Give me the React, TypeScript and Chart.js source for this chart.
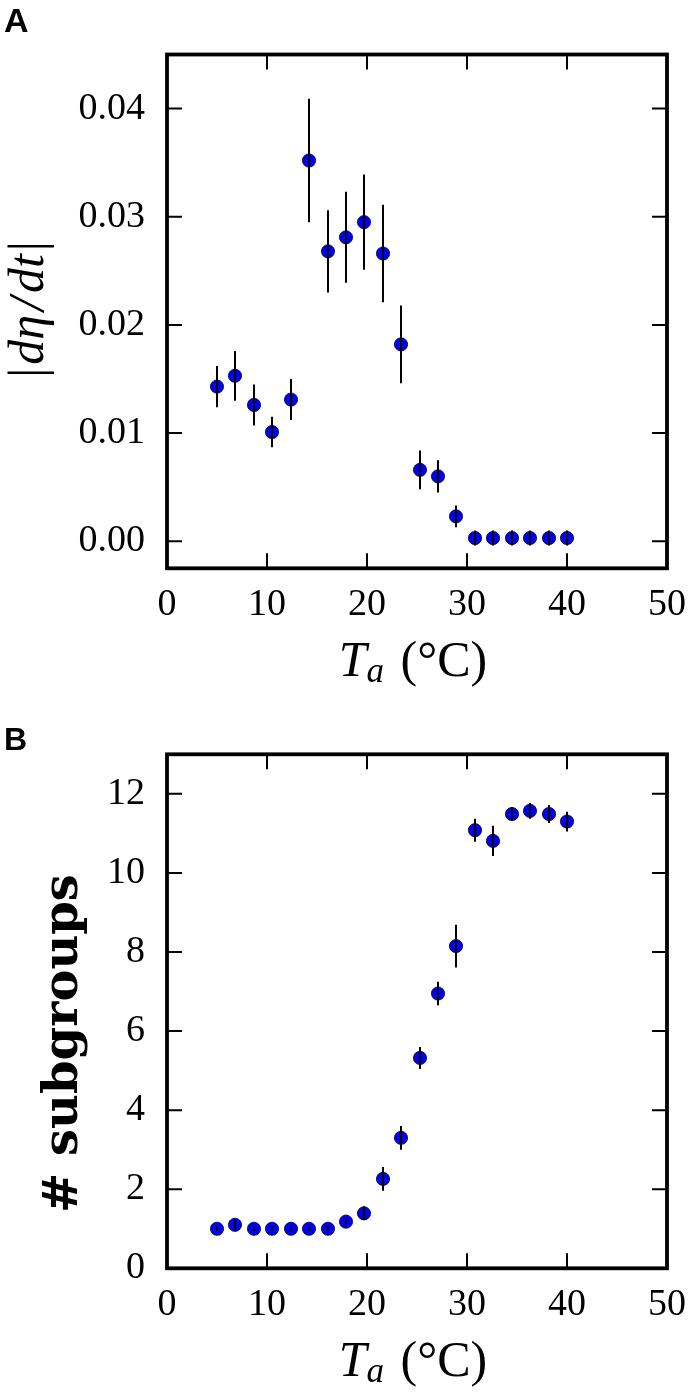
import React, { useEffect, useRef } from 'react';
import { Chart, registerables } from 'chart.js';

Chart.register(...registerables);

// ---- data ----
const temperature = [5.0, 6.8, 8.7, 10.5, 12.4, 14.2, 16.1, 17.9, 19.7, 21.6, 23.4, 25.3, 27.1, 28.9, 30.8, 32.6, 34.5, 36.3, 38.2, 40.0];
const rateValues = [0.0143, 0.0153, 0.0126, 0.0101, 0.0131, 0.0352, 0.0268, 0.0281, 0.0295, 0.0266, 0.0182, 0.0066, 0.006, 0.0023, 0.0003, 0.0003, 0.0003, 0.0003, 0.0003, 0.0003];
const rateErrors = [0.0019, 0.0023, 0.0019, 0.0014, 0.0019, 0.0057, 0.0038, 0.0042, 0.0044, 0.0045, 0.0036, 0.0018, 0.0015, 0.001, 0.0007, 0.0007, 0.0007, 0.0007, 0.0007, 0.0007];
const subgroupValues = [1.0, 1.1, 1.0, 1.0, 1.0, 1.0, 1.0, 1.18, 1.39, 2.26, 3.3, 5.32, 6.95, 8.15, 11.08, 10.81, 11.49, 11.57, 11.49, 11.3];
const subgroupErrors = [0.05, 0.12, 0.05, 0.05, 0.05, 0.05, 0.05, 0.08, 0.17, 0.3, 0.3, 0.28, 0.3, 0.54, 0.29, 0.38, 0.18, 0.2, 0.23, 0.25];
const xTicks = [0, 10, 20, 30, 40, 50];
const rateTicks = [0, 0.01, 0.02, 0.03, 0.04];
const subgroupTicks = [0, 2, 4, 6, 8, 10, 12];

const SERIF = '"Liberation Serif", "Times New Roman", serif';

type PanelCfg = {
  letter: string;
  letterFont: string;
  letterY: number;
  values: number[];
  errors: number[];
  yMin: number;
  yMax: number;
  yTicks: number[];
  fmt: (v: number) => string;
  padTop: number;
  xAxisHeight: number;
  drawYTitle: (ctx: CanvasRenderingContext2D, area: any) => void;
};

function drawXTitle(ctx: CanvasRenderingContext2D, area: any) {
  const main = 'italic 50px ' + SERIF;
  const sub = 'italic 35px ' + SERIF;
  const rest = '50px ' + SERIF;
  ctx.font = main;
  const wT = ctx.measureText('T').width;
  ctx.font = sub;
  const wa = ctx.measureText('a').width;
  ctx.font = rest;
  const wr = ctx.measureText(' (°C)').width;
  const total = wT + wa + wr + 4;
  const cx = (area.left + area.right) / 2 - 4;
  let x = cx - total / 2;
  const base = area.bottom + 108;
  ctx.fillStyle = '#000';
  ctx.textAlign = 'left';
  ctx.textBaseline = 'alphabetic';
  ctx.font = main;
  ctx.fillText('T', x, base);
  x += wT;
  ctx.font = sub;
  ctx.fillText('a', x, base + 6);
  x += wa + 4;
  ctx.font = rest;
  ctx.fillText(' (°C)', x, base);
}

function makeChart(canvas: HTMLCanvasElement, cfg: PanelCfg) {
  const decor = {
    id: 'decor',
    afterDatasetsDraw(chart: any) {
      const { ctx, scales } = chart;
      const x = scales.x;
      const y = scales.y;
      ctx.save();
      ctx.strokeStyle = '#000';
      ctx.lineWidth = 2;
      cfg.values.forEach((v, i) => {
        const px = x.getPixelForValue(temperature[i]);
        ctx.beginPath();
        ctx.moveTo(px, y.getPixelForValue(v - cfg.errors[i]));
        ctx.lineTo(px, y.getPixelForValue(v + cfg.errors[i]));
        ctx.stroke();
      });
      ctx.restore();
    },
    afterDraw(chart: any) {
      const { ctx, chartArea: a, scales } = chart;
      const x = scales.x;
      const y = scales.y;
      ctx.save();
      ctx.strokeStyle = '#000';
      // ticks (inward, all four sides)
      ctx.lineWidth = 2;
      const tl = 15;
      xTicks.forEach((t) => {
        const px = x.getPixelForValue(t);
        ctx.beginPath();
        ctx.moveTo(px, a.bottom);
        ctx.lineTo(px, a.bottom - tl);
        ctx.moveTo(px, a.top);
        ctx.lineTo(px, a.top + tl);
        ctx.stroke();
      });
      cfg.yTicks.forEach((t) => {
        const py = y.getPixelForValue(t);
        ctx.beginPath();
        ctx.moveTo(a.left, py);
        ctx.lineTo(a.left + tl, py);
        ctx.moveTo(a.right, py);
        ctx.lineTo(a.right - tl, py);
        ctx.stroke();
      });
      // frame
      ctx.lineWidth = 3.8;
      ctx.strokeRect(a.left, a.top, a.right - a.left, a.bottom - a.top);
      // titles
      drawXTitle(ctx, a);
      cfg.drawYTitle(ctx, a);
      // panel letter
      ctx.fillStyle = '#000';
      ctx.textAlign = 'left';
      ctx.textBaseline = 'alphabetic';
      ctx.font = cfg.letterFont;
      ctx.fillText(cfg.letter, 4, cfg.letterY);
      ctx.restore();
    },
  };

  return new Chart(canvas, {
    type: 'scatter',
    data: {
      datasets: [
        {
          data: temperature.map((t, i) => ({ x: t, y: cfg.values[i] })),
          pointRadius: 6.6,
          pointHoverRadius: 6.6,
          pointBackgroundColor: '#0000ee',
          pointBorderColor: '#000022',
          pointBorderWidth: 0.8,
          clip: false as any,
        },
      ],
    },
    options: {
      animation: false,
      responsive: false,
      devicePixelRatio: 1,
      events: [],
      layout: { padding: { top: cfg.padTop, right: 21, left: 0, bottom: 0 }, autoPadding: false } as any,
      plugins: { legend: { display: false }, tooltip: { enabled: false }, title: { display: false } },
      scales: {
        x: {
          type: 'linear',
          min: 0,
          max: 50,
          grid: { display: false, drawTicks: false },
          border: { display: false },
          afterBuildTicks: (s: any) => {
            s.ticks = xTicks.map((v) => ({ value: v }));
          },
          afterFit: (s: any) => {
            s.height = cfg.xAxisHeight;
          },
          ticks: {
            padding: 14,
            color: '#000',
            font: { family: SERIF, size: 38 },
            maxRotation: 0,
            autoSkip: false,
            callback: (v: any) => String(v),
          },
        },
        y: {
          type: 'linear',
          min: cfg.yMin,
          max: cfg.yMax,
          grid: { display: false, drawTicks: false },
          border: { display: false },
          afterBuildTicks: (s: any) => {
            s.ticks = cfg.yTicks.map((v) => ({ value: v }));
          },
          afterFit: (s: any) => {
            s.width = 167;
          },
          ticks: {
            padding: 22,
            color: '#000',
            font: { family: SERIF, size: 38 },
            autoSkip: false,
            callback: (v: any) => cfg.fmt(Number(v)),
          },
        },
      },
    } as any,
    plugins: [decor],
  });
}

const panelA: PanelCfg = {
  letter: 'A',
  letterFont: 'bold 34px "Liberation Sans", Arial, sans-serif',
  letterY: 32,
  values: rateValues,
  errors: rateErrors,
  yMin: -0.0025,
  yMax: 0.045,
  yTicks: rateTicks,
  fmt: (v) => v.toFixed(2),
  padTop: 54.5,
  xAxisHeight: 697 - 568.3,
  drawYTitle: (ctx) => {
    ctx.save();
    ctx.translate(43, 309.5);
    ctx.rotate(-Math.PI / 2);
    ctx.fillStyle = '#000';
    ctx.textBaseline = 'alphabetic';
    ctx.textAlign = 'left';
    const up = '50px ' + SERIF;
    const it = 'italic 50px ' + SERIF;
    const parts: [string, string, number][] = [
      ['|', up, 3],
      ['dη', it, 4],
      ['/', it, 4],
      ['dt', it, 3],
      ['|', up, 0],
    ];
    let total = 0;
    parts.forEach(([s, f, g]) => {
      ctx.font = f;
      total += ctx.measureText(s).width + g;
    });
    let x = -total / 2;
    parts.forEach(([s, f, g]) => {
      ctx.font = f;
      ctx.fillText(s, x, 0);
      x += ctx.measureText(s).width + g;
    });
    ctx.restore();
  },
};

const panelB: PanelCfg = {
  letter: 'B',
  letterFont: 'bold 32px "Liberation Sans", Arial, sans-serif',
  letterY: 53,
  values: subgroupValues,
  errors: subgroupErrors,
  yMin: 0,
  yMax: 13,
  yTicks: subgroupTicks,
  fmt: (v) => String(v),
  padTop: 57.3,
  xAxisHeight: 698 - 571.3,
  drawYTitle: (ctx) => {
    ctx.save();
    ctx.translate(77, 346.5);
    ctx.rotate(-Math.PI / 2);
    ctx.fillStyle = '#000';
    ctx.textBaseline = 'alphabetic';
    ctx.textAlign = 'center';
    ctx.font = 'bold 48px "DejaVu Serif", serif';
    ctx.fillText('# subgroups', 0, 0);
    ctx.restore();
  },
};

function Panel({ cfg, height }: { cfg: PanelCfg; height: number }) {
  const ref = useRef<HTMLCanvasElement | null>(null);
  useEffect(() => {
    if (!ref.current) return;
    const chart = makeChart(ref.current, cfg);
    return () => chart.destroy();
  }, [cfg]);
  return <canvas ref={ref} width={700} height={height} style={{ display: 'block', width: 700, height }} />;
}

export default function App() {
  return (
    <div style={{ position: 'absolute', left: 0, top: 0, width: 700, height: 1395, background: '#fff' }}>
      <Panel cfg={panelA} height={697} />
      <Panel cfg={panelB} height={698} />
    </div>
  );
}
